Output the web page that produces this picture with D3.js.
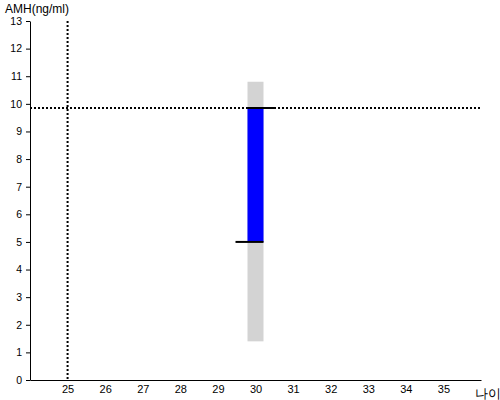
<!DOCTYPE html>
<html><head><meta charset="utf-8">
<script src="https://cdn.jsdelivr.net/npm/d3@7"></script>
<style>body{margin:0;background:#fff}svg{display:block}text{font-family:Arial,"Liberation Sans",sans-serif}</style>
</head><body><svg width="500" height="400"></svg>
<script>
const yTicks = [0,1,2,3,4,5,6,7,8,9,10,11,12,13];
const xTicks = [25,26,27,28,29,30,31,32,33,34,35];
const ageCat = [30];
const rangeLow = [1.4];
const rangeHigh = [10.8];
const valueLow = [5.0];
const valueHigh = [9.85];
const refAge = [25];
const refAmh = [9.85];

const svg = d3.select("svg");
const x = d3.scaleLinear().domain([24,36]).range([30,481]);
const y = d3.scaleLinear().domain([0,13]).range([380,21]);

// y axis
const ya = svg.append("g").attr("transform","translate(30,0)")
  .call(d3.axisLeft(y).tickValues(yTicks).tickSize(4).tickSizeOuter(0).tickPadding(4));
ya.select(".domain").attr("stroke","#000");
ya.selectAll("text").attr("font-size",10.5).attr("fill","#000").attr("font-family","Arial,'Liberation Sans',sans-serif");

// x axis
const xa = svg.append("g").attr("transform","translate(0,380)")
  .call(d3.axisBottom(x).tickValues(xTicks).tickSize(0).tickSizeOuter(0).tickPadding(5));
xa.select(".domain").attr("stroke","#000");
xa.selectAll("text").attr("font-size",11).attr("fill","#000").attr("font-family","Arial,'Liberation Sans',sans-serif");

// range bar
ageCat.forEach((a,i)=>{
  svg.append("rect").attr("x",x(a)-8).attr("width",16)
    .attr("y",y(rangeHigh[i])).attr("height",y(rangeLow[i])-y(rangeHigh[i]))
    .attr("fill","#d3d3d3");
  svg.append("rect").attr("x",x(a)-8).attr("width",16)
    .attr("y",y(valueHigh[i])).attr("height",y(valueLow[i])-y(valueHigh[i]))
    .attr("fill","#0000ff");
});

// reference dotted lines
svg.append("line").attr("x1",x(refAge[0])).attr("x2",x(refAge[0]))
  .attr("y1",y(13)).attr("y2",y(0)).attr("stroke","#000").attr("stroke-width",2).attr("stroke-dasharray","2,2");
svg.append("line").attr("x1",x(24)).attr("x2",x(36))
  .attr("y1",y(refAmh[0])).attr("y2",y(refAmh[0])).attr("stroke","#000").attr("stroke-width",2).attr("stroke-dasharray","2,2");

// markers
ageCat.forEach((a,i)=>{
  svg.append("line").attr("x1",x(a)-8).attr("x2",x(a)+20)
    .attr("y1",y(valueHigh[i])).attr("y2",y(valueHigh[i])).attr("stroke","#000").attr("stroke-width",2);
  svg.append("line").attr("x1",x(a)-20).attr("x2",x(a)+8)
    .attr("y1",y(valueLow[i])).attr("y2",y(valueLow[i])).attr("stroke","#000").attr("stroke-width",2);
});

svg.append("text").attr("x",5).attr("y",13).attr("font-size",12).attr("fill","#000").text("AMH(ng/ml)");
svg.append("text").attr("x",475).attr("y",398).attr("font-size",13).attr("fill","#000").attr("font-family","'Noto Sans CJK KR',sans-serif").text("나이");
</script></body></html>
